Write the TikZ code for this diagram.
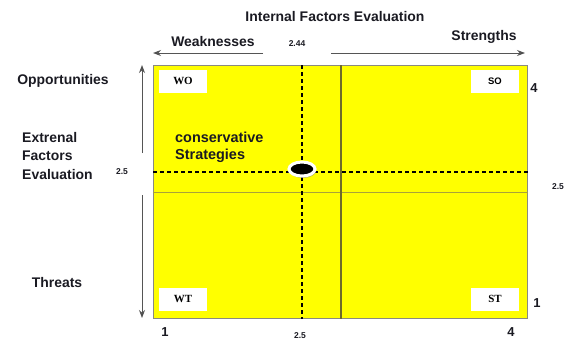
\documentclass[tikz,border=0pt]{standalone}
\usepackage{fontspec}
\setmainfont{Liberation Sans}
\newfontfamily\tagserif{Liberation Serif}
\usepackage{xcolor}
\usetikzlibrary{arrows.meta,positioning,shapes.geometric,shadows}
\definecolor{matyellow}{HTML}{FFFF00}
\definecolor{matolive}{HTML}{6E6A2A}
\definecolor{matlight}{HTML}{A8A23A}
\definecolor{matframe}{HTML}{8A8A80}
\definecolor{axisgray}{HTML}{555555}
\definecolor{labelink}{HTML}{1A1A22}

\begin{document}
\begin{tikzpicture}[
    x=1bp, y=-1bp,
    axistext/.style={font=\fontsize{14}{18}\selectfont\bfseries, text=labelink, inner sep=0pt},
    smallnum/.style={font=\fontsize{8.5}{10}\selectfont\bfseries, text=labelink, inner sep=0pt},
    bignum/.style={font=\fontsize{13}{15}\selectfont\bfseries, text=labelink, inner sep=0pt},
    quadtag/.style={rectangle, fill=white, minimum width=48bp, minimum height=23bp, inner sep=0pt, font=\tagserif\fontsize{11}{12}\selectfont\bfseries},
    arrow/.style={-{Stealth[length=8bp,width=6bp,fill=black]}, draw=axisgray, line width=1bp},
    cutline/.style={dashed, line width=1.2bp, dash pattern=on 4bp off 3bp}
]
\useasboundingbox (0,0) rectangle (570,341);

% Matrix area
\node[rectangle, draw=matframe, line width=1.2bp, fill=matyellow, minimum width=374bp, minimum height=253bp, inner sep=0pt, anchor=north west] (grid) at (153,65) {};

% Quadrant lines
\draw[matlight, line width=1bp] (grid.west |- 0,192) -- (grid.east |- 0,192);
\draw[matolive, line width=1.3bp] (grid.north -| 341,0) -- (grid.south -| 341,0);
\draw[cutline] (grid.north -| 302,0) -- (grid.south -| 302,0);
\draw[cutline] (grid.west |- 0,172) -- (grid.east |- 0,172);

% Quadrant tags
\node[quadtag] (wo) at (183,81) {WO};
\node[quadtag, font=\fontsize{9.5}{10}\selectfont\bfseries] (so) at (495,81) {SO};
\node[quadtag] (wt) at (183,299) {WT};
\node[quadtag] (st) at (495,299) {ST};

% Position point
\node[ellipse, fill=black, draw=white, line width=3bp, minimum width=26bp, minimum height=14bp, inner sep=0pt,
  drop shadow={shadow xshift=1bp, shadow yshift=-2bp, fill=black!45, opacity=0.6}] (point) at (302,169) {};

\node[axistext, anchor=north west, align=left, font=\fontsize{14.5}{17}\selectfont\bfseries] (cons) at (175,132) {conservative\\Strategies};

% Internal factors axis
\node[axistext] (ife) at (335,17) {Internal Factors Evaluation};
\node[axistext] (weak) at (213,42) {Weaknesses};
\node[axistext] (strong) at (484,37) {Strengths};
\node[smallnum] (midx) at (297,44) {2.44};
\coordinate (weakstart) at (263,53);
\coordinate (weakend) at (153,53);
\coordinate (strongstart) at (331,53);
\coordinate (strongend) at (525,53);
\draw[arrow] (weakstart) -- (weakend);
\draw[arrow] (strongstart) -- (strongend);

% External factors axis
\node[axistext] (opp) at (63,81) {Opportunities};
\node[axistext, anchor=west, align=left, font=\fontsize{14}{18.5}\selectfont\bfseries] (efe) at (22,156) {Extrenal\\Factors\\Evaluation};
\node[axistext] (thr) at (57,283) {Threats};
\node[smallnum] (midy) at (122,172) {2.5};
\coordinate (oppstart) at (142,153);
\coordinate (oppend) at (142,65);
\coordinate (thrstart) at (142,195);
\coordinate (thrend) at (142,318);
\draw[arrow] (oppstart) -- (oppend);
\draw[arrow] (thrstart) -- (thrend);

% Scale values
\node[bignum] (ytop) at (534,88) {4};
\node[bignum] (ybot) at (537,303) {1};
\node[bignum] (xleft) at (165,332) {1};
\node[bignum] (xright) at (511,332) {4};
\node[smallnum] (xmid) at (300,336) {2.5};
\node[smallnum] (ymid) at (558,187) {2.5};

\end{tikzpicture}
\end{document}
